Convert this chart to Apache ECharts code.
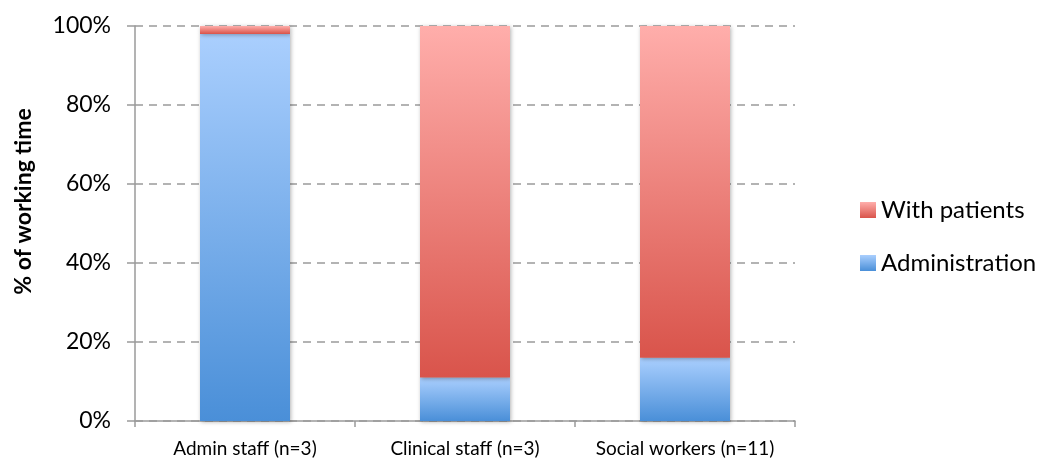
<!DOCTYPE html>
<html>
<head>
<meta charset="utf-8">
<script src="https://cdn.jsdelivr.net/npm/echarts@6/dist/echarts.min.js"></script>
<style>
  html, body { margin: 0; padding: 0; background: #fff; }
  #chart { width: 1044px; height: 459px; }
</style>
</head>
<body>
<div id="chart"></div>
<script>
var categories    = ['Admin staff (n=3)', 'Clinical staff (n=3)', 'Social workers (n=11)'];
var adminValues   = [98, 11, 16];
var patientValues = [2, 89, 84];
var yTicks        = [0, 20, 40, 60, 80, 100];

function grad(top, bottom){
    return new echarts.graphic.LinearGradient(0, 0, 0, 1, [
        {offset: 0, color: top},
        {offset: 1, color: bottom}
    ]);
}

var font = 'Lato, "Open Sans", sans-serif';
var shadow = {shadowBlur: 4, shadowColor: 'rgba(0,0,0,0.3)', shadowOffsetX: 1, shadowOffsetY: 1};

var option = {
    animation: false,
    textStyle: {fontFamily: font},
    grid: {left: 135, right: 249, top: 26, bottom: 38},
    legend: {
        orient: 'vertical',
        left: 855,
        top: 193,
        icon: 'rect',
        itemWidth: 16,
        itemHeight: 16,
        itemGap: 29,
        data: ['With patients', 'Administration'],
        textStyle: {fontFamily: font, fontSize: 24, color: '#000'}
    },
    xAxis: {
        type: 'category',
        data: categories,
        axisLine: {lineStyle: {color: '#9a9a9a', width: 1.5}},
        axisTick: {show: true, length: 6, lineStyle: {color: '#9a9a9a', width: 1.5}},
        axisLabel: {fontSize: 19, color: '#000', margin: 18, interval: 0}
    },
    yAxis: {
        type: 'value',
        min: yTicks[0],
        max: yTicks[yTicks.length - 1],
        interval: 20,
        name: '% of working time',
        nameLocation: 'middle',
        nameRotate: 90,
        nameGap: 100,
        nameTextStyle: {fontSize: 23, fontWeight: 'bold', color: '#000', fontFamily: font, padding: [0, 0, 0, 44]},
        axisLine: {show: true, lineStyle: {color: '#9a9a9a', width: 1.5}},
        axisTick: {show: true, length: 8, lineStyle: {color: '#9a9a9a', width: 1.5}},
        axisLabel: {formatter: '{value}%', fontSize: 23, color: '#000', margin: 24},
        splitLine: {lineStyle: {color: '#9a9a9a', type: [8, 6], width: 1.5}}
    },
    series: [{
        name: 'Administration',
        type: 'bar',
        stack: 'total',
        barWidth: 90,
        data: adminValues,
        itemStyle: Object.assign({color: grad('#aacffe', '#4a8fd8')}, shadow)
    }, {
        name: 'With patients',
        type: 'bar',
        stack: 'total',
        barWidth: 90,
        data: patientValues,
        itemStyle: Object.assign({color: grad('#ffaeab', '#d9544b')}, shadow)
    }]
};

echarts.init(document.getElementById('chart')).setOption(option);
</script>
</body>
</html>
